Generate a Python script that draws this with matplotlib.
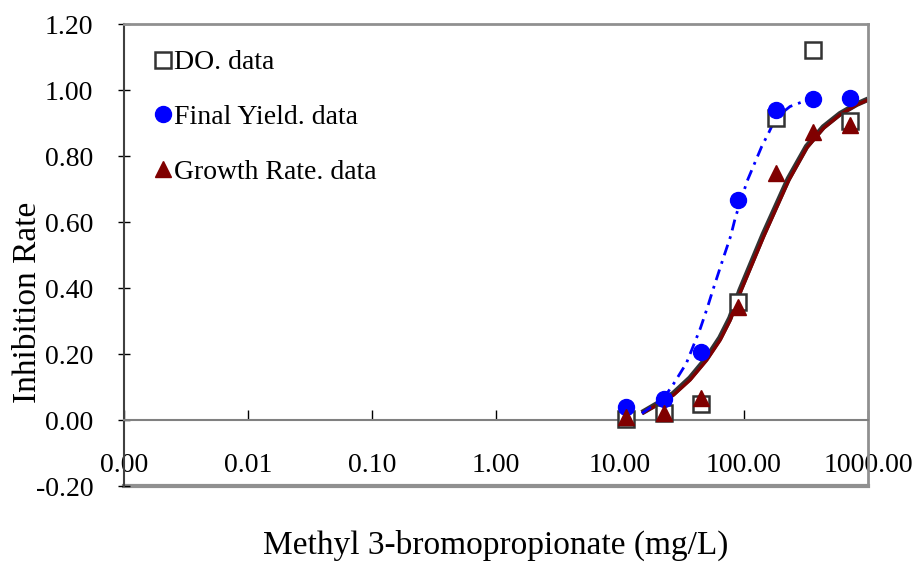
import matplotlib
matplotlib.use('Agg')
import matplotlib.pyplot as plt
from matplotlib.ticker import FixedLocator, FixedFormatter, NullLocator

plt.rcParams['font.family'] = ['Liberation Serif', 'DejaVu Serif']

### Data
conc = [11.25, 22.5, 45.0, 90.0, 180.0, 360.0, 720.0]          # mg/L
do_data = [0.002, 0.020, 0.047, 0.357, 0.914, 1.122, 0.906]
yield_data = [0.040, 0.065, 0.206, 0.668, 0.940, 0.973, 0.977]
rate_data = [0.010, 0.020, 0.068, 0.342, 0.749, 0.874, 0.894]

# fitted curves
rate_fit_x = [15.0, 21.0, 26.9, 36.7, 50.0, 64.0, 77.1, 92.9, 143.0, 228.0, 320.0, 437.0, 595.0, 811.0, 1000.0]
rate_fit_y = [0.020, 0.050, 0.075, 0.121, 0.181, 0.241, 0.301, 0.385, 0.553, 0.724, 0.824, 0.884, 0.925, 0.955, 0.970]
do_fit_x = [15.0, 21.0, 26.9, 36.7, 50.0, 64.0, 77.1, 92.9, 143.0, 228.0, 320.0, 437.0, 595.0, 811.0, 1000.0]
do_fit_y = [0.022, 0.054, 0.080, 0.127, 0.188, 0.249, 0.309, 0.393, 0.562, 0.731, 0.829, 0.888, 0.928, 0.957, 0.972]
yield_fit_x = [15.0, 22.5, 27.2, 34.3, 44.5, 50.6, 55.9, 69.4, 78.2, 85.1, 106.0, 139.0, 159.0, 180.0, 235.0, 310.0, 352.0]
yield_fit_y = [0.020, 0.066, 0.111, 0.172, 0.278, 0.340, 0.392, 0.500, 0.558, 0.613, 0.724, 0.829, 0.872, 0.915, 0.950, 0.967, 0.974]

x_ticks = [0.001, 0.01, 0.1, 1, 10, 100, 1000]
x_tick_labels = ['0.00', '0.01', '0.10', '1.00', '10.00', '100.00', '1000.00']
y_ticks = [-0.2, 0.0, 0.2, 0.4, 0.6, 0.8, 1.0, 1.2]
y_tick_labels = ['-0.20', '0.00', '0.20', '0.40', '0.60', '0.80', '1.00', '1.20']

### Plot
fig = plt.figure(figsize=(9.17, 5.66), dpi=100)
ax = fig.add_axes([124 / 917, 1 - 486 / 566, 744 / 917, 462 / 566])

ax.plot(do_fit_x, do_fit_y, color='#333333', lw=4.0, zorder=2, solid_capstyle='butt')
ax.plot(rate_fit_x, rate_fit_y, color='#800000', lw=2.4, zorder=2.1, solid_capstyle='butt')
ax.plot(yield_fit_x, yield_fit_y, color='#0000ff', lw=2.0, zorder=2.2,
        dashes=(4, 2.2, 1, 2.2))

ax.plot(conc, do_data, ls='none', marker='s', ms=12, mfc='white', mec='#333333',
        mew=1.8, zorder=3, label='DO. data')
ax.plot(conc, yield_data, ls='none', marker='o', ms=11.5, color='#0000ff', zorder=4,
        label='Final Yield. data')
ax.plot(conc, rate_data, ls='none', marker='^', ms=11.5, color='#800000', zorder=5,
        label='Growth Rate. data')

ax.set_xscale('log')
ax.set_xlim(0.001, 1000)
ax.set_ylim(-0.2, 1.2)

ax.xaxis.set_major_locator(FixedLocator(x_ticks))
ax.xaxis.set_major_formatter(FixedFormatter(x_tick_labels))
ax.xaxis.set_minor_locator(NullLocator())
ax.yaxis.set_major_locator(FixedLocator(y_ticks))
ax.yaxis.set_major_formatter(FixedFormatter(y_tick_labels))

# x axis crosses at y = 0, plot area keeps a gray frame
ax.spines['bottom'].set_position(('data', 0))
ax.spines['bottom'].set_color('#808080')
ax.spines['bottom'].set_linewidth(1.5)
for side in ['top', 'right']:
    ax.spines[side].set_color('#909090')
    ax.spines[side].set_linewidth(2)
ax.spines['left'].set_color('#404040')
ax.spines['left'].set_linewidth(1.5)
ax.axhline(-0.2, color='#909090', lw=3, clip_on=False, zorder=1)

ax.tick_params(axis='x', direction='in', length=7, width=1, color='black',
               labelsize=20, pad=24)
ax.tick_params(axis='y', direction='inout', length=8, width=1, color='black',
               labelsize=20, pad=18)

ax.set_xlabel('Methyl 3-bromopropionate (mg/L)', fontsize=24)
ax.xaxis.set_label_coords(0.499, -0.095)
ax.xaxis.label.set_va('top')
ax.set_ylabel('Inhibition Rate', fontsize=24)
ax.yaxis.set_label_coords(-0.130, 0.398)
ax.yaxis.label.set_va('center')

ax.legend(loc='upper left', bbox_to_anchor=((155 - 124) / 744, (486 - 50) / 462),
          frameon=False, fontsize=20, handlelength=0.6, handletextpad=0.1,
          borderpad=0, borderaxespad=0, labelspacing=1.05, markerscale=1.0)

fig.savefig('out.png', dpi=100)
